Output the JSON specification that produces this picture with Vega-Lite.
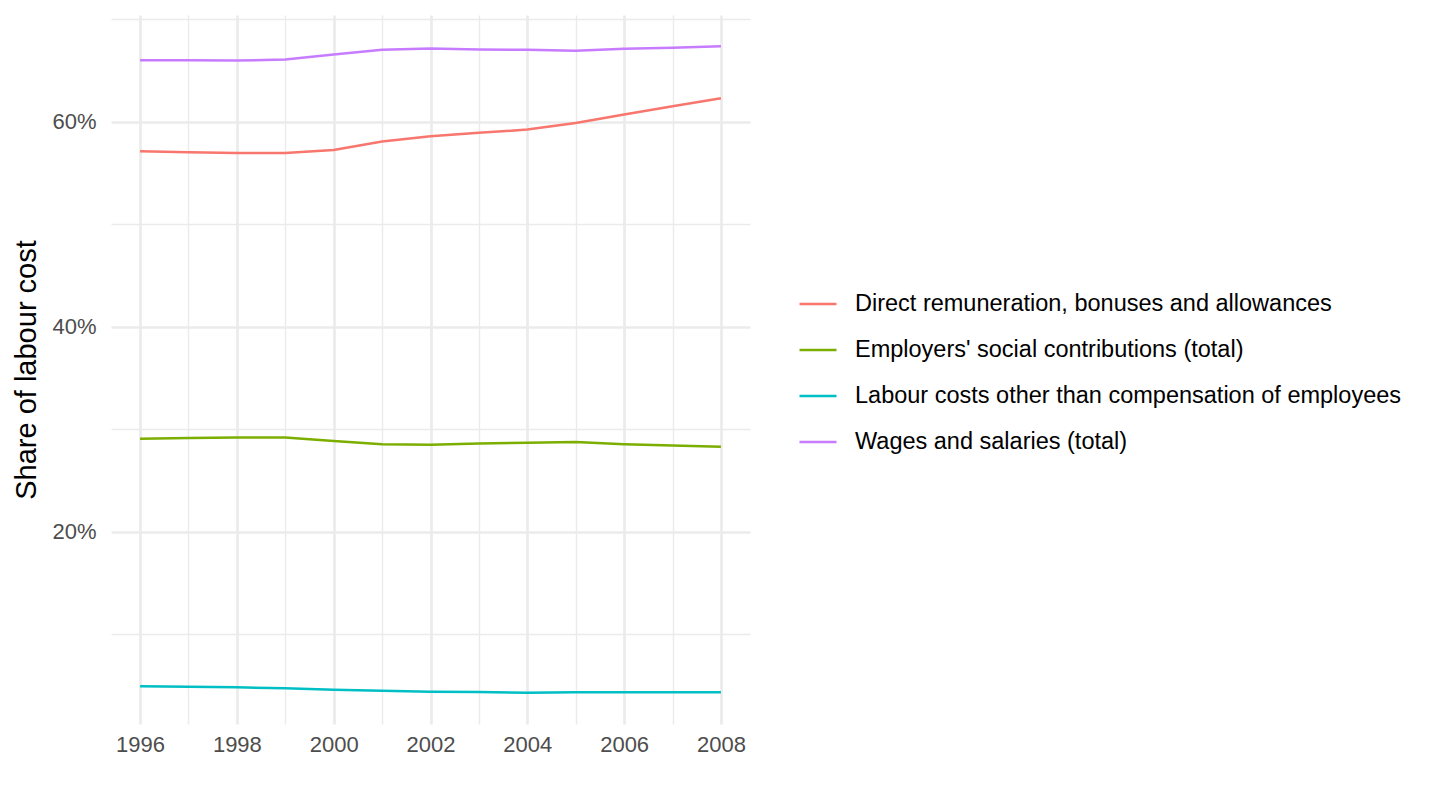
{
  "$schema": "https://vega.github.io/schema/vega-lite/v6.json",
  "autosize": {"type": "none"},
  "padding": {"left": 111, "top": 15, "right": 690, "bottom": 86},
  "width": 639,
  "height": 709,
  "background": "white",
  "config": {
    "font": "Liberation Sans",
    "view": {"stroke": null}
  },
  "data": {
    "values": [
      {"year": 1996, "series": "Direct remuneration, bonuses and allowances", "share": 57.1},
      {"year": 1997, "series": "Direct remuneration, bonuses and allowances", "share": 57.0},
      {"year": 1998, "series": "Direct remuneration, bonuses and allowances", "share": 56.94},
      {"year": 1999, "series": "Direct remuneration, bonuses and allowances", "share": 56.94},
      {"year": 2000, "series": "Direct remuneration, bonuses and allowances", "share": 57.24},
      {"year": 2001, "series": "Direct remuneration, bonuses and allowances", "share": 58.05},
      {"year": 2002, "series": "Direct remuneration, bonuses and allowances", "share": 58.57},
      {"year": 2003, "series": "Direct remuneration, bonuses and allowances", "share": 58.9},
      {"year": 2004, "series": "Direct remuneration, bonuses and allowances", "share": 59.22},
      {"year": 2005, "series": "Direct remuneration, bonuses and allowances", "share": 59.87},
      {"year": 2006, "series": "Direct remuneration, bonuses and allowances", "share": 60.68},
      {"year": 2007, "series": "Direct remuneration, bonuses and allowances", "share": 61.49},
      {"year": 2008, "series": "Direct remuneration, bonuses and allowances", "share": 62.27},
      {"year": 1996, "series": "Employers' social contributions (total)", "share": 29.07},
      {"year": 1997, "series": "Employers' social contributions (total)", "share": 29.14},
      {"year": 1998, "series": "Employers' social contributions (total)", "share": 29.2},
      {"year": 1999, "series": "Employers' social contributions (total)", "share": 29.2},
      {"year": 2000, "series": "Employers' social contributions (total)", "share": 28.85},
      {"year": 2001, "series": "Employers' social contributions (total)", "share": 28.55},
      {"year": 2002, "series": "Employers' social contributions (total)", "share": 28.49},
      {"year": 2003, "series": "Employers' social contributions (total)", "share": 28.62},
      {"year": 2004, "series": "Employers' social contributions (total)", "share": 28.68},
      {"year": 2005, "series": "Employers' social contributions (total)", "share": 28.75},
      {"year": 2006, "series": "Employers' social contributions (total)", "share": 28.55},
      {"year": 2007, "series": "Employers' social contributions (total)", "share": 28.42},
      {"year": 2008, "series": "Employers' social contributions (total)", "share": 28.29},
      {"year": 1996, "series": "Labour costs other than compensation of employees", "share": 4.95},
      {"year": 1997, "series": "Labour costs other than compensation of employees", "share": 4.91},
      {"year": 1998, "series": "Labour costs other than compensation of employees", "share": 4.85},
      {"year": 1999, "series": "Labour costs other than compensation of employees", "share": 4.75},
      {"year": 2000, "series": "Labour costs other than compensation of employees", "share": 4.62},
      {"year": 2001, "series": "Labour costs other than compensation of employees", "share": 4.52},
      {"year": 2002, "series": "Labour costs other than compensation of employees", "share": 4.42},
      {"year": 2003, "series": "Labour costs other than compensation of employees", "share": 4.39},
      {"year": 2004, "series": "Labour costs other than compensation of employees", "share": 4.32},
      {"year": 2005, "series": "Labour costs other than compensation of employees", "share": 4.36},
      {"year": 2006, "series": "Labour costs other than compensation of employees", "share": 4.36},
      {"year": 2007, "series": "Labour costs other than compensation of employees", "share": 4.36},
      {"year": 2008, "series": "Labour costs other than compensation of employees", "share": 4.37},
      {"year": 1996, "series": "Wages and salaries (total)", "share": 65.98},
      {"year": 1997, "series": "Wages and salaries (total)", "share": 65.97},
      {"year": 1998, "series": "Wages and salaries (total)", "share": 65.95},
      {"year": 1999, "series": "Wages and salaries (total)", "share": 66.05},
      {"year": 2000, "series": "Wages and salaries (total)", "share": 66.54},
      {"year": 2001, "series": "Wages and salaries (total)", "share": 67.0},
      {"year": 2002, "series": "Wages and salaries (total)", "share": 67.12},
      {"year": 2003, "series": "Wages and salaries (total)", "share": 67.02},
      {"year": 2004, "series": "Wages and salaries (total)", "share": 67.0},
      {"year": 2005, "series": "Wages and salaries (total)", "share": 66.9},
      {"year": 2006, "series": "Wages and salaries (total)", "share": 67.09},
      {"year": 2007, "series": "Wages and salaries (total)", "share": 67.19},
      {"year": 2008, "series": "Wages and salaries (total)", "share": 67.35}
    ]
  },
  "mark": {"type": "line", "strokeWidth": 2.5},
  "encoding": {
    "x": {
      "field": "year",
      "type": "quantitative",
      "scale": {"domain": [1995.4, 2008.6], "nice": false, "zero": false},
      "axis": {
        "title": null,
        "values": [1996, 1997, 1998, 1999, 2000, 2001, 2002, 2003, 2004, 2005, 2006, 2007, 2008],
        "format": "d",
        "labelExpr": "datum.value % 2 === 0 ? datum.label : ''",
        "domain": false,
        "ticks": false,
        "labelPadding": 10,
        "labelFontSize": 22,
        "labelColor": "#4d4d4d",
        "labelFlush": false,
        "labelOverlap": false,
        "gridColor": "#ebebeb",
        "gridWidth": {"condition": {"test": "datum.value % 2 === 0", "value": 2.7}, "value": 1.4}
      }
    },
    "y": {
      "field": "share",
      "type": "quantitative",
      "scale": {"domain": [1.27, 70.39], "nice": false, "zero": false},
      "axis": {
        "title": "Share of labour cost",
        "titleFontSize": 29,
        "titleFontWeight": "normal",
        "titleColor": "black",
        "titlePadding": 10,
        "values": [10, 20, 30, 40, 50, 60, 70],
        "labelExpr": "datum.value % 20 === 0 ? datum.value + '%' : ''",
        "domain": false,
        "ticks": false,
        "labelPadding": 15,
        "labelFontSize": 22,
        "labelColor": "#4d4d4d",
        "labelOverlap": false,
        "gridColor": "#ebebeb",
        "gridWidth": {"condition": {"test": "datum.value % 20 === 0", "value": 2.7}, "value": 1.4}
      }
    },
    "color": {
      "field": "series",
      "type": "nominal",
      "scale": {"range": ["#F8766D", "#7CAE00", "#00BFC4", "#C77CFF"]},
      "legend": {
        "title": null,
        "orient": "none",
        "legendX": 687,
        "legendY": 269,
        "symbolType": "stroke",
        "symbolSize": 1369,
        "symbolStrokeWidth": 2.5,
        "labelFontSize": 23.5,
        "labelColor": "black",
        "labelOffset": 17,
        "rowPadding": 14,
        "labelLimit": 700
      }
    }
  }
}
